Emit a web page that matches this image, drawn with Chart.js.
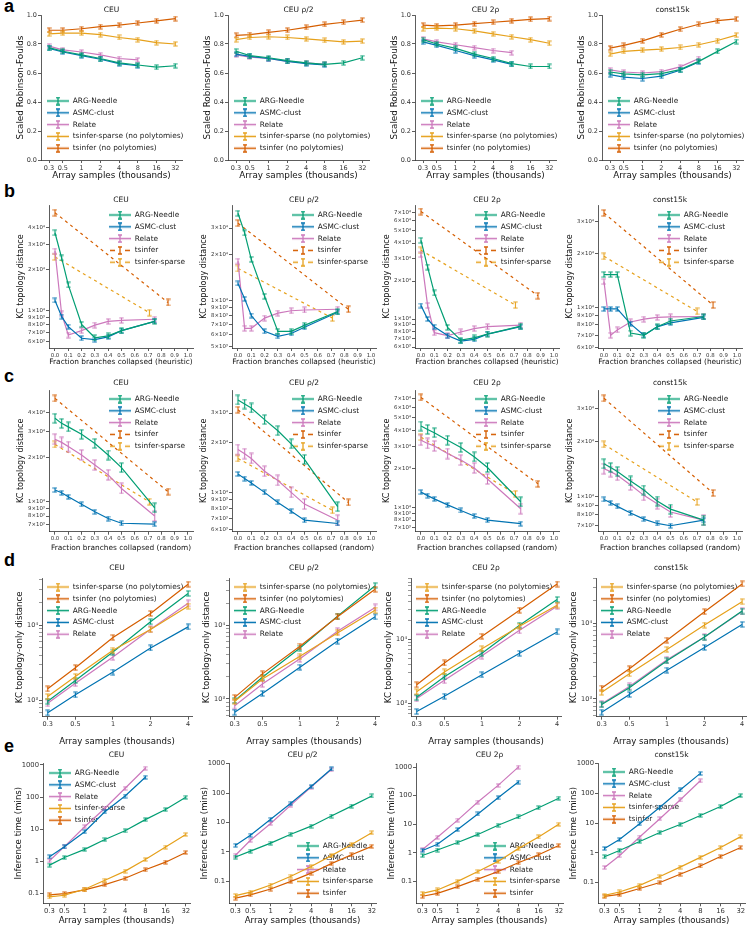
<!DOCTYPE html>
<html>
<head>
<meta charset="utf-8">
<script src="https://cdn.jsdelivr.net/npm/chart.js@4.4.1/dist/chart.umd.min.js"></script>
<style>
html, body { margin: 0; padding: 0; background: #fff; }
#fig { position: relative; width: 748px; height: 926px; overflow: hidden; }
#fig canvas { position: absolute; }
.lab { position: absolute; font: bold 18px "Liberation Sans", Arial, sans-serif; color: #000; line-height: 18px; }
</style>
</head>
<body>
<div id="fig">
  <div class="lab" style="left:4px;top:-3px">a</div>
  <div class="lab" style="left:4px;top:182px">b</div>
  <div class="lab" style="left:4px;top:367px">c</div>
  <div class="lab" style="left:4px;top:551px">d</div>
  <div class="lab" style="left:4px;top:737px">e</div>
</div>
<script>
// ---- categories / x values ----
const panelTitles = ['CEU', 'CEU ρ/2', 'CEU 2ρ', 'const15k'];
const samples = [0.3, 0.5, 1, 2, 4, 8, 16, 32];
const samplesD = [0.3, 0.5, 1, 2, 4];
const fracs = [0, 0.05, 0.1, 0.2, 0.3, 0.4, 0.5, 0.75];
const tsinferEnd = [0.85, 0.83, 0.88, 0.82];
const sparseEnd = [0.71, 0.71, 0.71, 0.70];

// ---- tick labels ----
const xTicksSamples = [0.3, 0.5, 1, 2, 4, 8, 16, 32];
const xTicksD = [0.3, 0.5, 1, 2, 4];
const xTicksFrac = [0, 0.1, 0.2, 0.3, 0.4, 0.5, 0.6, 0.7, 0.8, 0.9, 1.0];
const yTicksRF = [0, 0.2, 0.4, 0.6, 0.8, 1.0];
const yTicksTime = [0.1, 1, 10, 100, 1000];
const yTicksKcOnly = [1000, 10000];
const yMinorKcOnly = [600, 700, 800, 900, 2000, 3000, 4000, 5000, 6000, 7000, 8000, 9000, 20000, 30000, 40000, 50000, 60000, 70000, 80000, 90000];
const yTicksB1 = [6e3, 7e3, 8e3, 9e3, 1e4, 2e4, 3e4, 4e4];
const yTicksB2 = [5e3, 6e3, 7e3, 8e3, 9e3, 1e4, 2e4, 3e4];
const yTicksB3 = [6e3, 7e3, 8e3, 9e3, 1e4, 2e4, 3e4, 4e4, 5e4, 6e4, 7e4];
const yTicksB4 = [6e3, 7e3, 8e3, 9e3, 1e4, 2e4, 3e4];
const yTicksC1 = [7e3, 8e3, 9e3, 1e4, 2e4, 3e4, 4e4];
const yTicksC2 = [6e3, 7e3, 8e3, 9e3, 1e4, 2e4, 3e4];
const yTicksC3 = [7e3, 8e3, 9e3, 1e4, 2e4, 3e4, 4e4, 5e4, 6e4, 7e4];
const yTicksC4 = [7e3, 8e3, 9e3, 1e4, 2e4, 3e4];

// ---- a: scaled Robinson-Foulds ----
const a1Arg = [0.775, 0.75, 0.725, 0.70, 0.67, 0.655, 0.64, 0.65];
const a1Asmc = [0.77, 0.745, 0.72, 0.695, 0.665, 0.65];
const a1Relate = [0.785, 0.76, 0.745, 0.725, 0.70, 0.69];
const a1Sparse = [0.87, 0.875, 0.875, 0.865, 0.845, 0.83, 0.81, 0.80];
const a1Tsinfer = [0.895, 0.895, 0.905, 0.92, 0.93, 0.945, 0.96, 0.975];

const a2Arg = [0.75, 0.72, 0.705, 0.685, 0.67, 0.66, 0.67, 0.705];
const a2Asmc = [0.73, 0.715, 0.70, 0.68, 0.665, 0.655];
const a2Relate = [0.725, 0.71, 0.70, 0.68, 0.67, 0.66];
const a2Sparse = [0.83, 0.845, 0.85, 0.845, 0.835, 0.825, 0.815, 0.82];
const a2Tsinfer = [0.86, 0.865, 0.88, 0.895, 0.915, 0.935, 0.95, 0.965];

const a3Arg = [0.83, 0.80, 0.77, 0.73, 0.70, 0.665, 0.645, 0.645];
const a3Asmc = [0.815, 0.79, 0.755, 0.72, 0.69, 0.66];
const a3Relate = [0.835, 0.815, 0.795, 0.775, 0.755, 0.74];
const a3Sparse = [0.905, 0.91, 0.905, 0.89, 0.87, 0.85, 0.83, 0.805];
const a3Tsinfer = [0.93, 0.925, 0.93, 0.94, 0.95, 0.96, 0.97, 0.975];

const a4Arg = [0.607, 0.594, 0.587, 0.596, 0.623, 0.68, 0.749, 0.817];
const a4Asmc = [0.589, 0.571, 0.562, 0.578, 0.619, 0.676];
const a4Relate = [0.621, 0.607, 0.60, 0.61, 0.642, 0.70];
const a4Sparse = [0.73, 0.749, 0.758, 0.765, 0.776, 0.795, 0.824, 0.861];
const a4Tsinfer = [0.772, 0.79, 0.822, 0.863, 0.902, 0.936, 0.961, 0.973];

// ---- b: KC distance, heuristic collapse ----
const b1Arg = [36600, 24100, 15400, 8000, 6400, 6600, 7200, 8400];
const b1Asmc = [11900, 9100, 7700, 6350, 6200, 6500, 7200, 8400];
const b1Relate = [27000, 9500, 6700, 7200, 7900, 8400, 8550, 8700];
const b1Tsinfer = [51000, 11500];
const b1Sparse = [24500, 9700];

const b2Arg = [37500, 27900, 18700, 10700, 6300, 6300, 6900, 8500];
const b2Asmc = [13000, 10300, 8000, 6300, 5850, 6100, 6700, 8400];
const b2Relate = [18200, 6600, 6600, 7700, 8300, 8600, 8700, 8800];
const b2Tsinfer = [32300, 8800];
const b2Sparse = [16300, 7700];

const b3Arg = [42000, 25800, 16100, 8600, 6800, 7100, 7600, 8800];
const b3Asmc = [12800, 10000, 8700, 7400, 6700, 6900, 7600, 8700];
const b3Relate = [32400, 12800, 7800, 7400, 7900, 8400, 8700, 8950];
const b3Tsinfer = [71000, 15300];
const b3Sparse = [35000, 12900];

const b4Arg = [15200, 15200, 15200, 7200, 7000, 7800, 8400, 8900];
const b4Asmc = [9800, 9800, 9800, 8100, 7000, 7800, 8200, 8800];
const b4Relate = [13900, 7000, 7500, 8300, 8600, 8800, 8850, 8900];
const b4Tsinfer = [33400, 10300];
const b4Sparse = [19200, 9500];

// ---- c: KC distance, random collapse ----
const c1Arg = [36700, 33900, 32100, 28600, 24800, 20700, 17000, 9100];
const c1Asmc = [12000, 11500, 10800, 9600, 8550, 7700, 7150, 7050];
const c1Relate = [26500, 25200, 23600, 20700, 17700, 15200, 12300, 8000];
const c1Tsinfer = [50000, 11700];
const c1Sparse = [24400, 10000];

const c2Arg = [36000, 34000, 32200, 27400, 23500, 19600, 15800, 8200];
const c2Asmc = [12900, 12100, 11400, 10000, 8700, 7700, 6800, 6500];
const c2Relate = [18100, 17100, 16000, 13400, 11800, 10000, 8500, 6800];
const c2Tsinfer = [31400, 8700];
const c2Sparse = [16000, 7800];

const c3Arg = [43000, 40500, 38200, 33400, 29300, 24800, 20500, 11100];
const c3Asmc = [13200, 12400, 11700, 10500, 9500, 8600, 8000, 7500];
const c3Relate = [33400, 31500, 30100, 26300, 23400, 20300, 16700, 9800];
const c3Tsinfer = [71800, 15300];
const c3Sparse = [35300, 12800];

const c4Arg = [15100, 14400, 13700, 12200, 10900, 9500, 8600, 7500];
const c4Asmc = [9700, 9300, 8900, 8200, 7600, 7200, 7000, 7500];
const c4Relate = [14200, 13700, 13100, 11600, 10200, 9200, 8300, 7500];
const c4Tsinfer = [34000, 10500];
const c4Sparse = [19200, 9400];

// ---- d: KC topology-only distance ----
const d1Sparse = [1130, 2090, 4640, 8760, 17900];
const d1Tsinfer = [1430, 2730, 6850, 14300, 35000];
const d1Arg = [980, 1850, 4400, 11100, 26400];
const d1Asmc = [686, 1190, 2390, 4990, 9500];
const d1Relate = [920, 1700, 3780, 8850, 19500];

const d2Sparse = [930, 1870, 3800, 7850, 16000];
const d2Tsinfer = [1050, 2190, 5200, 13000, 30700];
const d2Arg = [950, 1970, 4900, 13300, 34400];
const d2Asmc = [660, 1190, 2700, 6100, 13000];
const d2Relate = [810, 1600, 3500, 8300, 17400];

const d3Sparse = [1520, 3100, 7200, 16200, 34800];
const d3Tsinfer = [1950, 4300, 11300, 29000, 74700];
const d3Arg = [1240, 2600, 6100, 16800, 42800];
const d3Asmc = [740, 1290, 2800, 6100, 13200];
const d3Relate = [1190, 2300, 5600, 14000, 33500];

const d4Sparse = [1220, 2150, 4500, 9500, 19400];
const d4Tsinfer = [1390, 2500, 6000, 14300, 33400];
const d4Arg = [840, 1400, 3200, 6600, 14600];
const d4Asmc = [665, 1140, 2400, 4800, 9700];
const d4Relate = [860, 1460, 3300, 6600, 14400];

// ---- e: inference time (mins) ----
const e1Arg = [0.77, 1.33, 2.37, 4.8, 9.0, 20, 41, 99];
const e1Asmc = [1.4, 2.85, 8.4, 35, 108, 414];
const e1Relate = [1.05, 2.9, 12, 45, 188, 790];
const e1Sparse = [0.079, 0.089, 0.137, 0.26, 0.5, 1.15, 2.8, 6.9];
const e1Tsinfer = [0.092, 0.1, 0.13, 0.19, 0.3, 0.55, 0.95, 1.9];

const e2Arg = [0.67, 1.07, 2.0, 4.0, 7.5, 16.6, 36, 80];
const e2Asmc = [1.68, 3.7, 12.8, 45, 167, 657];
const e2Relate = [0.77, 2.5, 9.3, 39, 159, 624];
const e2Sparse = [0.033, 0.043, 0.075, 0.15, 0.32, 0.75, 1.8, 4.5];
const e2Tsinfer = [0.027, 0.035, 0.055, 0.1, 0.19, 0.4, 0.8, 1.55];

const e3Arg = [0.8, 1.25, 2.3, 4.4, 9.2, 18, 38, 82];
const e3Asmc = [1.2, 2.0, 6.5, 23, 85, 300];
const e3Relate = [1.3, 3.5, 14, 60, 230, 1000];
const e3Sparse = [0.038, 0.05, 0.1, 0.22, 0.5, 1.4, 3.6, 10];
const e3Tsinfer = [0.03, 0.038, 0.065, 0.12, 0.22, 0.45, 0.85, 1.8];

const e4Arg = [0.74, 1.2, 2.4, 4.8, 9.0, 18, 36, 84];
const e4Asmc = [1.4, 2.8, 9.5, 34, 130, 470];
const e4Relate = [0.32, 0.8, 3.4, 14, 60, 265];
const e4Sparse = [0.037, 0.048, 0.08, 0.16, 0.33, 0.7, 1.5, 3.5];
const e4Tsinfer = [0.034, 0.04, 0.063, 0.1, 0.19, 0.36, 0.75, 1.5];

const C = { arg: '#029e73', asmc: '#0173b2', relate: '#cc78bc', sparse: '#e6a11c', tsinfer: '#d55e00' };
const FONT = '"DejaVu Sans", sans-serif';
const Y_W = 40;
const TITLE_SIZE = 7.5;

const rows = {
  a: { top: 0, bottom: 182, titleY: 10, plotTop: 15, plotBottom: 160, plotL: [41, 228, 415, 602], plotW: 141,
       yGap: 20, xTitleY: 176, tick: 6.5, axisX: 8.8, axisY: 8.8, xTitle: 'Array samples (thousands)', yTitle: 'Scaled Robinson-Foulds' },
  b: { top: 185, bottom: 368, titleY: 200.5, plotTop: 205, plotBottom: 348, plotL: [49, 232, 415, 598], plotW: 144,
       yGap: 28, xTitleY: 362.5, tick: 5.4, axisX: 7.4, axisY: 8, xTitle: 'Fraction branches collapsed (heuristic)', yTitle: 'KC topology distance' },
  c: { top: 370, bottom: 553, titleY: 383.3, plotTop: 390, plotBottom: 531.7, plotL: [49, 232, 415, 598], plotW: 144,
       yGap: 28, xTitleY: 547.7, tick: 5.4, axisX: 7.4, axisY: 8, xTitle: 'Fraction branches collapsed (random)', yTitle: 'KC topology distance' },
  d: { top: 555, bottom: 747, titleY: 568.3, plotTop: 578, plotBottom: 716.7, plotL: [42, 229, 411, 596], plotW: 150,
       yGap: 22, xTitleY: 741.7, tick: 6.5, axisX: 8.6, axisY: 8.6, xTitle: 'Array samples (thousands)', yTitle: 'KC topology-only distance' },
  e: { top: 742, bottom: 926, titleY: 755, plotTop: 763, plotBottom: 903.3, plotL: [43, 229, 416, 598], plotW: 147,
       yGap: 24, xTitleY: 921, tick: 6.8, axisX: 8.6, axisY: 8.6, xTitle: 'Array samples (thousands)', yTitle: 'Inference time (mins)' }
};

const fig = document.getElementById('fig');
const iconCache = {};

function ibeam(color, h) {
  const key = 'i' + color + h;
  if (iconCache[key]) return iconCache[key];
  const c = document.createElement('canvas');
  const w = 5;
  c.width = w; c.height = h + 2;
  const g = c.getContext('2d');
  g.strokeStyle = color; g.lineWidth = 1.1;
  g.beginPath();
  g.moveTo(w / 2, 1); g.lineTo(w / 2, h + 1);
  g.moveTo(0.3, 1); g.lineTo(w - 0.3, 1);
  g.moveTo(0.3, h + 1); g.lineTo(w - 0.3, h + 1);
  g.stroke();
  iconCache[key] = c;
  return c;
}

function legIcon(color, dashed) {
  const key = 'l' + color + dashed;
  if (iconCache[key]) return iconCache[key];
  const c = document.createElement('canvas');
  c.width = 22; c.height = 9;
  const g = c.getContext('2d');
  g.strokeStyle = color; g.lineWidth = 1.3;
  g.beginPath();
  if (dashed) {
    g.moveTo(1, 4.5); g.lineTo(6, 4.5);
    g.moveTo(16, 4.5); g.lineTo(21, 4.5);
  } else {
    g.moveTo(0, 4.5); g.lineTo(22, 4.5);
  }
  g.moveTo(11, 1); g.lineTo(11, 8);
  g.moveTo(9, 1); g.lineTo(13, 1);
  g.moveTo(9, 8); g.lineTo(13, 8);
  g.stroke();
  iconCache[key] = c;
  return c;
}

function pts(xs, ys) {
  return ys.map((y, i) => ({ x: xs[i], y: y }));
}

function ds(label, color, xs, ys, eh, dashed) {
  return {
    label: label, data: pts(xs, ys),
    borderColor: color, backgroundColor: color, borderWidth: 1.2,
    borderDash: dashed ? [3, 3.5] : [],
    pointStyle: ibeam(color, eh), pointRadius: 3, tension: 0
  };
}

const SUP = { '0': '⁰', '1': '¹', '2': '²', '3': '³', '4': '⁴', '5': '⁵', '6': '⁶', '7': '⁷', '8': '⁸', '9': '⁹' };
function sci(v) {
  const e = Math.floor(Math.log10(v) + 1e-9);
  const m = Math.round(v / Math.pow(10, e));
  return m + '×10' + String(e).split('').map(d => SUP[d]).join('');
}

const legendMover = {
  id: 'legendMover',
  afterLayout(chart, args, opts) {
    const lg = chart.legend;
    if (!lg) return;
    const a = chart.chartArea;
    const pad = lg.options.labels.padding;
    const fs = lg.options.labels.font.size;
    lg.left = a.left + opts.dx - pad;
    lg.top = a.top + opts.dy - pad - fs / 2;
    lg.right = lg.left + lg.width;
    lg.bottom = lg.top + lg.height;
  }
};

function axisBase() {
  return {
    bounds: 'data',
    grid: { display: true, drawOnChartArea: false, drawTicks: true, tickLength: 3, tickColor: '#333',
            tickWidth: c => (c.tick && c.tick.minor ? 0.5 : 0.8) },
    border: { display: true, color: '#333', width: 0.8 },
  };
}

function makePanel(rowKey, col, p) {
  const R = rows[rowKey];
  const plotL = R.plotL[col];
  const left = plotL - Y_W;
  const padR = 12;
  const width = Y_W + R.plotW + padR;
  const height = R.bottom - R.top;
  const cv = document.createElement('canvas');
  cv.width = width; cv.height = height;
  cv.style.left = left + 'px'; cv.style.top = R.top + 'px';
  cv.style.width = width + 'px'; cv.style.height = height + 'px';
  fig.appendChild(cv);

  const tLH = TITLE_SIZE * 1.2;
  const tPadTop = R.titleY - R.top - tLH / 2;
  const tPadBot = Math.max(0, (R.plotTop - R.top) - tLH - tPadTop);
  const xH = R.bottom - R.plotBottom;
  const xLH = R.axisX * 1.2;
  const yLH = R.axisY * 1.2;
  const yAll = p.yTicks.concat(p.yMinor || []);

  new Chart(cv, {
    type: 'line',
    data: { datasets: p.datasets },
    options: {
      responsive: false, animation: false, events: [],
      layout: { padding: { left: 0, right: padR, top: 0, bottom: 0 }, autoPadding: false },
      scales: {
        x: Object.assign(axisBase(), {
          type: p.xType, position: 'bottom', min: p.xMin, max: p.xMax,
          afterFit: s => { s.height = xH; },
          afterBuildTicks: s => {
            s.ticks = p.xTicks.filter(v => v >= p.xMin && v <= p.xMax).map(v => ({ value: v }));
          },
          ticks: { callback: p.xLabel, font: { family: FONT, size: R.tick }, color: '#333', padding: 1,
                   maxRotation: 0, minRotation: 0, autoSkip: false },
          title: { display: true, text: R.xTitle, color: '#111', font: { family: FONT, size: R.axisX },
                   padding: { top: 0, bottom: R.bottom - R.xTitleY - xLH / 2 } }
        }),
        y: Object.assign(axisBase(), {
          type: p.yType, position: 'left', min: p.yMin, max: p.yMax,
          afterFit: s => { s.width = Y_W; },
          afterBuildTicks: s => {
            s.ticks = yAll.filter(v => v >= p.yMin && v <= p.yMax).sort((u, w) => u - w)
              .map(v => ({ value: v, minor: p.yTicks.indexOf(v) < 0 }));
          },
          ticks: { callback: p.yLabel, font: { family: FONT, size: R.tick }, color: '#333', padding: 1, autoSkip: false },
          title: { display: true, text: R.yTitle, color: '#111', font: { family: FONT, size: R.axisY },
                   padding: { top: Y_W - R.yGap - yLH / 2, bottom: 0 } }
        })
      },
      plugins: {
        title: { display: true, text: panelTitles[col], fullSize: false, color: '#111',
                 font: { family: FONT, size: TITLE_SIZE, weight: 'normal' },
                 padding: { top: tPadTop, bottom: tPadBot } },
        legend: {
          position: 'chartArea', align: 'start',
          labels: {
            usePointStyle: true, pointStyleWidth: 22, padding: 4.4, color: '#222',
            font: { family: FONT, size: 7.4 },
            generateLabels: chart => chart.data.datasets.map((d, i) => ({
              text: d.label, datasetIndex: i, hidden: false, lineWidth: 0,
              fillStyle: d.borderColor, strokeStyle: d.borderColor, fontColor: '#222',
              pointStyle: legIcon(d.borderColor, d.borderDash && d.borderDash.length > 0)
            }))
          }
        },
        legendMover: { dx: p.legDx, dy: p.legDy },
        tooltip: { enabled: false }
      }
    },
    plugins: [legendMover]
  });
}

const sampleLabel = v => String(v);
const fracLabel = v => v.toFixed(1);
const rfLabel = v => v.toFixed(1);
const timeLabel = v => String(v);
const kcOnlyLabel = v => (v === 1000 ? '10³' : v === 10000 ? '10⁴' : '');

// row a
const aSets = [
  [a1Arg, a1Asmc, a1Relate, a1Sparse, a1Tsinfer],
  [a2Arg, a2Asmc, a2Relate, a2Sparse, a2Tsinfer],
  [a3Arg, a3Asmc, a3Relate, a3Sparse, a3Tsinfer],
  [a4Arg, a4Asmc, a4Relate, a4Sparse, a4Tsinfer]
];
aSets.forEach((s, col) => {
  makePanel('a', col, {
    datasets: [
      ds('ARG-Needle', C.arg, samples, s[0], 4),
      ds('ASMC-clust', C.asmc, samples, s[1], 4),
      ds('Relate', C.relate, samples, s[2], 4),
      ds('tsinfer-sparse (no polytomies)', C.sparse, samples, s[3], 4),
      ds('tsinfer (no polytomies)', C.tsinfer, samples, s[4], 4)
    ],
    xType: 'logarithmic', xMin: 0.223, xMax: 41, xTicks: xTicksSamples, xLabel: sampleLabel,
    yType: 'linear', yMin: 0, yMax: 1.0, yTicks: yTicksRF, yLabel: rfLabel,
    legDx: 6, legDy: 86
  });
});

// rows b and c
const bSets = [
  [b1Arg, b1Asmc, b1Relate, b1Tsinfer, b1Sparse, yTicksB1, 5400, 58000],
  [b2Arg, b2Asmc, b2Relate, b2Tsinfer, b2Sparse, yTicksB2, 4900, 42500],
  [b3Arg, b3Asmc, b3Relate, b3Tsinfer, b3Sparse, yTicksB3, 5900, 80000],
  [b4Arg, b4Asmc, b4Relate, b4Tsinfer, b4Sparse, yTicksB4, 5950, 37000]
];
const cSets = [
  [c1Arg, c1Asmc, c1Relate, c1Tsinfer, c1Sparse, yTicksC1, 6270, 57000],
  [c2Arg, c2Asmc, c2Relate, c2Tsinfer, c2Sparse, yTicksC2, 5800, 41300],
  [c3Arg, c3Asmc, c3Relate, c3Tsinfer, c3Sparse, yTicksC3, 6500, 82000],
  [c4Arg, c4Asmc, c4Relate, c4Tsinfer, c4Sparse, yTicksC4, 6500, 37700]
];
[['b', bSets, 5, 5], ['c', cSets, 9, 10]].forEach(([rk, sets, ehA, ehR]) => {
  sets.forEach((s, col) => {
    makePanel(rk, col, {
      datasets: [
        ds('ARG-Needle', C.arg, fracs, s[0], ehA),
        ds('ASMC-clust', C.asmc, fracs, s[1], 4),
        ds('Relate', C.relate, fracs, s[2], ehR),
        ds('tsinfer', C.tsinfer, [0, tsinferEnd[col]], s[3], 6, true),
        ds('tsinfer-sparse', C.sparse, [0, sparseEnd[col]], s[4], 6, true)
      ],
      xType: 'linear', xMin: -0.045, xMax: 1.038, xTicks: xTicksFrac, xLabel: fracLabel,
      yType: 'logarithmic', yMin: s[6], yMax: s[7], yTicks: s[5], yLabel: sci,
      legDx: 60, legDy: rk === 'b' ? 10 : 9
    });
  });
});

// row d
const dSets = [
  [d1Sparse, d1Tsinfer, d1Arg, d1Asmc, d1Relate, 610, 42300],
  [d2Sparse, d2Tsinfer, d2Arg, d2Asmc, d2Relate, 575, 43700],
  [d3Sparse, d3Tsinfer, d3Arg, d3Asmc, d3Relate, 615, 93000],
  [d4Sparse, d4Tsinfer, d4Arg, d4Asmc, d4Relate, 580, 40000]
];
dSets.forEach((s, col) => {
  makePanel('d', col, {
    datasets: [
      ds('tsinfer-sparse (no polytomies)', C.sparse, samplesD, s[0], 5),
      ds('tsinfer (no polytomies)', C.tsinfer, samplesD, s[1], 5),
      ds('ARG-Needle', C.arg, samplesD, s[2], 5),
      ds('ASMC-clust', C.asmc, samplesD, s[3], 5),
      ds('Relate', C.relate, samplesD, s[4], 6)
    ],
    xType: 'logarithmic', xMin: 0.27, xMax: 4.3, xTicks: xTicksD, xLabel: sampleLabel,
    yType: 'logarithmic', yMin: s[5], yMax: s[6], yTicks: yTicksKcOnly, yMinor: yMinorKcOnly, yLabel: kcOnlyLabel,
    legDx: 5, legDy: 9
  });
});

// row e
const eSets = [
  [e1Arg, e1Asmc, e1Relate, e1Sparse, e1Tsinfer, 0.05, 1150, 6, 10],
  [e2Arg, e2Asmc, e2Relate, e2Sparse, e2Tsinfer, 0.018, 1050, 68, 83],
  [e3Arg, e3Asmc, e3Relate, e3Sparse, e3Tsinfer, 0.017, 1400, 68, 83],
  [e4Arg, e4Asmc, e4Relate, e4Sparse, e4Tsinfer, 0.02, 1050, 5, 9]
];
eSets.forEach((s, col) => {
  makePanel('e', col, {
    datasets: [
      ds('ARG-Needle', C.arg, samples, s[0], 3),
      ds('ASMC-clust', C.asmc, samples, s[1], 3),
      ds('Relate', C.relate, samples, s[2], 3),
      ds('tsinfer-sparse', C.sparse, samples, s[3], 3),
      ds('tsinfer', C.tsinfer, samples, s[4], 3)
    ],
    xType: 'logarithmic', xMin: 0.24, xMax: 37, xTicks: xTicksSamples, xLabel: sampleLabel,
    yType: 'logarithmic', yMin: s[5], yMax: s[6], yTicks: yTicksTime, yLabel: timeLabel,
    legDx: s[7], legDy: s[8]
  });
});
</script>
</body>
</html>
